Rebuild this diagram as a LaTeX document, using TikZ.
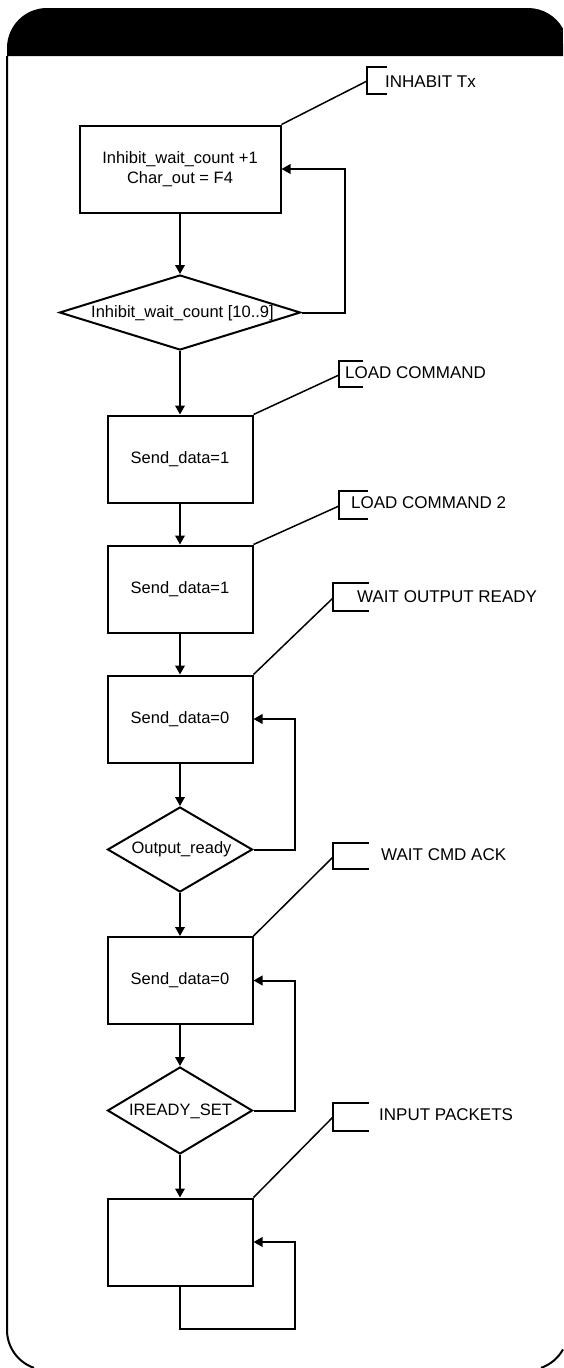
\documentclass[tikz,border=0pt]{standalone}
\usepackage{fontspec}
\setmainfont{Liberation Sans}
\usetikzlibrary{arrows.meta,shapes.geometric}
\begin{document}
\begin{tikzpicture}[x=1pt,y=-1pt,
  box/.style={draw,line width=2pt,minimum width=145pt,minimum height=87pt,inner sep=0pt,align=center,font=\fontsize{16.5}{20}\selectfont},
  dia/.style={draw,diamond,line width=2pt,inner sep=0pt},
  dtext/.style={font=\fontsize{16.5}{20}\selectfont,inner sep=0pt},
  flow/.style={line width=2pt,-{Triangle[length=9pt,width=9.5pt]}},
  lead/.style={line width=1.5pt},
  brk/.style={line width=2pt},
  ctext/.style={anchor=west,inner sep=0pt,font=\fontsize{17}{20}\selectfont},
  frame/.style={line width=2pt}]
\useasboundingbox (0,0) rectangle (563,1368);
% header (black band with rounded top corners, right side running off the page)
\fill (7,56) -- (7,48) arc[start angle=180,end angle=270,radius=40]
      -- (528,8) arc[start angle=270,end angle=331,radius=40]
      -- (563,56) -- cycle;
% frame: left side and the two visible bottom corners
\draw[frame] (7,56) -- (7,1330) arc[start angle=180,end angle=109,radius=40];
\draw[frame] (528,1330) ++(29:40) arc[start angle=29,end angle=71,radius=40];

% flow nodes
\node[box,minimum width=201pt] (b1) at (180,169) {Inhibit\_wait\_count +1\\Char\_out = F4};
\node[dia,minimum width=241pt,minimum height=75pt] (d1) at (180,312.5) {};
\node[dtext] (t1) at (182.5,313) {Inhibit\_wait\_count [10..9]};
\node[box] (b2) at (180,459) {Send\_data=1};
\node[box] (b3) at (180,589) {Send\_data=1};
\node[box] (b4) at (180,719) {Send\_data=0};
\node[dia,minimum width=145pt,minimum height=85pt] (d2) at (180,849.5) {};
\node[dtext] (t2) at (181.5,849) {Output\_ready};
\node[box] (b5) at (180,980.5) {Send\_data=0};
\node[dia,minimum width=145pt,minimum height=87pt] (d3) at (180,1110.5) {};
\node[dtext] (t3) at (180.5,1111) {IREADY\_SET};
\node[box] (b6) at (180,1242) {};

% main arrows
\draw[flow] (b1.south) -- (d1.north);
\draw[flow] (d1.south) -- (b2.north);
\draw[flow] (b2.south) -- (b3.north);
\draw[flow] (b3.south) -- (b4.north);
\draw[flow] (b4.south) -- (d2.north);
\draw[flow] (d2.south) -- (b5.north);
\draw[flow] (b5.south) -- (d3.north);
\draw[flow] (d3.south) -- (b6.north);

% loops
\coordinate (x1) at (345,0);
\coordinate (x2) at (295,0);
\draw[flow] (d1.east) -- (d1.east -| x1) -- (b1.east -| x1) -- (b1.east);
\draw[flow] (d2.east) -- (d2.east -| x2) -- (b4.east -| x2) -- (b4.east);
\draw[flow] (d3.east) -- (d3.east -| x2) -- (b5.east -| x2) -- (b5.east);
\coordinate (q1) at (180,1329);
\coordinate (q2) at (295,1329);
\draw[flow] (b6.south) -- (q1) -- (q2) |- (b6.east);

% callouts
\draw[brk] (387,67) -- (367,67) -- (367,94) -- (387,94);
\coordinate (k1) at (367,81);
\node[ctext] (n1) at (385,82) {INHABIT Tx};
\draw[lead] (b1.north east) -- (k1);

\draw[brk] (363,361) -- (339,361) -- (339,387) -- (363,387);
\coordinate (k2) at (339,375);
\node[ctext] (n2) at (345,373) {LOAD COMMAND};
\draw[lead] (b2.north east) -- (k2);

\draw[brk] (368,491) -- (339,491) -- (339,519) -- (368,519);
\coordinate (k3) at (339,506);
\node[ctext] (n3) at (351,503) {LOAD COMMAND 2};
\draw[lead] (b3.north east) -- (k3);

\draw[brk] (369,583) -- (333,583) -- (333,611) -- (369,611);
\coordinate (k4) at (333,598);
\node[ctext] (n4) at (357,597) {WAIT OUTPUT READY};
\draw[lead] (b4.north east) -- (k4);

\draw[brk] (369,843) -- (333,843) -- (333,869) -- (369,869);
\coordinate (k5) at (333,857);
\node[ctext] (n5) at (381,855) {WAIT CMD ACK};
\draw[lead] (b5.north east) -- (k5);

\draw[brk] (369,1103) -- (333,1103) -- (333,1131) -- (369,1131);
\coordinate (k6) at (333,1117);
\node[ctext] (n6) at (379,1115) {INPUT PACKETS};
\draw[lead] (b6.north east) -- (k6);
\end{tikzpicture}
\end{document}
